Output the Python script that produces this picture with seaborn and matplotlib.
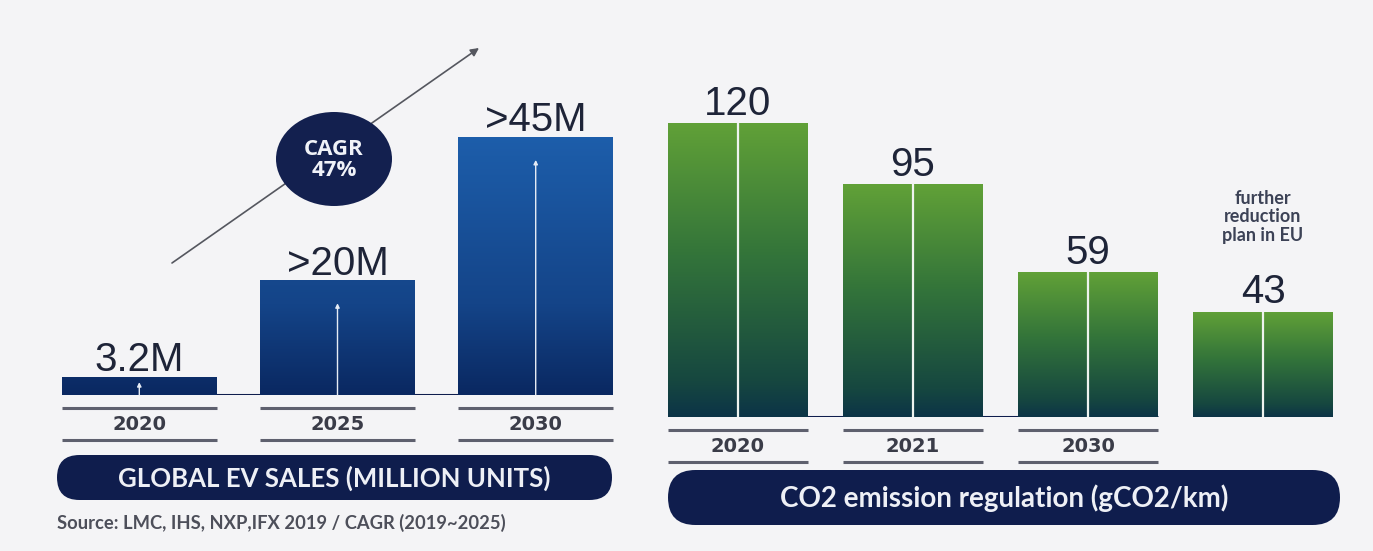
import numpy as np
import pandas as pd
import matplotlib
matplotlib.use("Agg")
import matplotlib.pyplot as plt
import matplotlib.transforms as mtransforms
from matplotlib.colors import LinearSegmentedColormap
from matplotlib.patches import FancyBboxPatch, Ellipse
import seaborn as sns

# ---- data ----
ev_years = ["2020", "2025", "2030"]
ev_sales = [3.2, 20, 45]            # million units
ev_prefix = ["", ">", ">"]
cagr_text = "CAGR\n47%"

co2_labels = ["2020", "2021", "2030", "further\nreduction\nplan in EU"]
co2_values = [120, 95, 59, 43]      # gCO2/km

ev_title = "GLOBAL EV SALES (MILLION UNITS)"
co2_title = "CO2 emission regulation (gCO2/km)"
source_text = "Source: LMC, IHS, NXP,IFX 2019 / CAGR (2019~2025)"

# ---- style ----
sns.set_theme(style="white")
plt.rcParams["font.family"] = ["Liberation Sans", "DejaVu Sans"]

W, H = 1373, 551
BG = "#f4f4f6"
NAVY = "#0f1d4d"
VALUE_COLOR = "#1e2438"

fig = plt.figure(figsize=(W / 100, H / 100), dpi=100, facecolor=BG)


def fx(x):
    return x / W


def fy(y):
    return 1 - y / H


# background layer in pixel units for the decorations
bg = fig.add_axes([0, 0, 1, 1], zorder=0)
bg.set_xlim(0, W)
bg.set_ylim(H, 0)
bg.axis("off")
bg.set_facecolor(BG)

blue_cmap = LinearSegmentedColormap.from_list(
    "ev_blue", [(0, "#0a2861"), (0.35, "#144488"), (1, "#1d5eab")])
green_cmap = LinearSegmentedColormap.from_list(
    "co2_green", [(0, "#0c3447"), (0.12, "#164740"), (0.55, "#33743a"), (1, "#61a137")])


def fill_gradient(ax, patch, cmap, t0, t1):
    x0, w, h = patch.get_x(), patch.get_width(), patch.get_height()
    grad = np.linspace(t1, t0, 256).reshape(-1, 1)
    im = ax.imshow(grad, cmap=cmap, vmin=0, vmax=1, aspect="auto",
                   extent=[x0, x0 + w, 0, h], zorder=2, interpolation="bilinear")
    im.set_clip_path(patch)
    patch.set_facecolor("none")
    patch.set_edgecolor("none")


def under_labels(ax, centers, labels, width, y_lines, y_text):
    tr = mtransforms.blended_transform_factory(ax.transData, fig.transFigure)
    for c, lab in zip(centers, labels):
        for yl in y_lines:
            ax.plot([c - width / 2, c + width / 2], [fy(yl), fy(yl)], transform=tr,
                    color="#5e606e", lw=2.2, clip_on=False, solid_capstyle="butt")
        ax.text(c, fy(y_text), lab, transform=tr, ha="center", va="center",
                fontsize=14, fontweight="bold", color="#3a3c48",
                family=["DejaVu Sans"])


# ---- left panel: global EV sales ----
axL = fig.add_axes([fx(62), fy(395), (613 - 62) / W, (395 - 30) / H], zorder=2)
axL.patch.set_alpha(0)
bw_L = 0.78
ev_df = pd.DataFrame({"year": ev_years, "sales": ev_sales})
sns.barplot(data=ev_df, x="year", y="sales", hue="year", palette=["#1d5eab"] * 3,
            legend=False, width=bw_L, ax=axL, zorder=2)
ymax_L = 365 / (258 / 45)
ev_patches = sorted(axL.patches, key=lambda p: p.get_x())
for p in ev_patches:
    fill_gradient(axL, p, blue_cmap, 0, p.get_height() / 45)
axL.plot([-bw_L / 2, 2 + bw_L / 2], [0, 0], color=NAVY, lw=2.2, zorder=1,
         solid_capstyle="butt")
for i, v in enumerate(ev_sales):
    tip = max(v - 4, v * 0.7)
    axL.annotate("", xy=(i, tip), xytext=(i, 0),
                 arrowprops=dict(arrowstyle="-|>", color="#e6ecf5", lw=1.0,
                                 mutation_scale=6, shrinkA=0, shrinkB=0), zorder=3)
    axL.annotate(f"{ev_prefix[i]}{v:g}M", xy=(i, v), xytext=(0, 4),
                 textcoords="offset points", ha="center", va="baseline",
                 fontsize=29, color=VALUE_COLOR, zorder=4)
axL.set_xlim(-0.39, 2.39)
axL.set_ylim(0, ymax_L)
axL.axis("off")
under_labels(axL, range(3), ev_years, bw_L, [408, 440], 424)

# growth arrow and CAGR badge
bg.annotate("", xy=(479, 48), xytext=(172, 263),
            arrowprops=dict(arrowstyle="-|>", color="#55575f", lw=1.2,
                            mutation_scale=12, shrinkA=0, shrinkB=0))
bg.add_patch(Ellipse((334, 159), 116, 94, facecolor="#13204f", edgecolor="none", zorder=3))
bg.text(334, 160, cagr_text, ha="center", va="center", color="#f0f2f8",
        fontsize=16, fontweight="bold", linespacing=1.0, zorder=4,
        family=["Open Sans", "DejaVu Sans"])

# ---- right panel: CO2 regulation ----
axR = fig.add_axes([fx(668), fy(417), (1333 - 668) / W, (417 - 30) / H], zorder=2)
axR.patch.set_alpha(0)
bw_R = 0.8
co2_df = pd.DataFrame({"label": co2_labels, "value": co2_values})
sns.barplot(data=co2_df, x="label", y="value", hue="label", palette=["#61a137"] * 4,
            legend=False, width=bw_R, ax=axR, zorder=2)
co2_patches = sorted(axR.patches, key=lambda p: p.get_x())
for p in co2_patches:
    fill_gradient(axR, p, green_cmap, 0, 1)
axR.plot([-bw_R / 2, 2 + bw_R / 2], [0, 0], color=NAVY, lw=2.2, zorder=1,
         solid_capstyle="butt")
axR.vlines(range(len(co2_values)), 0, co2_values, color="#eef3ee", lw=1.6, zorder=3)
for i, v in enumerate(co2_values):
    axR.annotate(f"{v}", xy=(i, v), xytext=(0, 6), textcoords="offset points",
                 ha="center", va="baseline", fontsize=29, color=VALUE_COLOR, zorder=4)
axR.set_xlim(-0.4, 3.4)
axR.set_ylim(0, 387 / 2.45)
axR.axis("off")
under_labels(axR, range(3), co2_labels[:3], bw_R, [430, 462], 446)
trR = mtransforms.blended_transform_factory(axR.transData, fig.transFigure)
axR.text(3, fy(217), co2_labels[3], transform=trR, ha="center", va="center",
         fontsize=13, fontweight="bold", color="#3c4256", linespacing=1.12,
         family=["Lato", "DejaVu Sans"])

# ---- title pills and source ----
for (x0, x1, y0, y1, txt, fs) in [(57, 612, 455, 500, ev_title, 18.5),
                                  (668, 1340, 470, 525, co2_title, 20)]:
    h = y1 - y0
    bg.add_patch(FancyBboxPatch((x0, y0), x1 - x0, h,
                                boxstyle=f"round,pad=0,rounding_size={h / 2}",
                                facecolor=NAVY, edgecolor="none", zorder=2))
    bg.text((x0 + x1) / 2, (y0 + y1) / 2 + 1, txt, ha="center", va="center",
            color="#eef0f6", fontsize=fs, fontweight="bold", zorder=3,
            family=["Lato", "DejaVu Sans"])

bg.text(57, 523, source_text, ha="left", va="center", color="#4d4f5a",
        fontsize=13.2, fontweight="bold", family=["Lato", "DejaVu Sans"])

fig.savefig("out.png", dpi=100, facecolor=BG)
